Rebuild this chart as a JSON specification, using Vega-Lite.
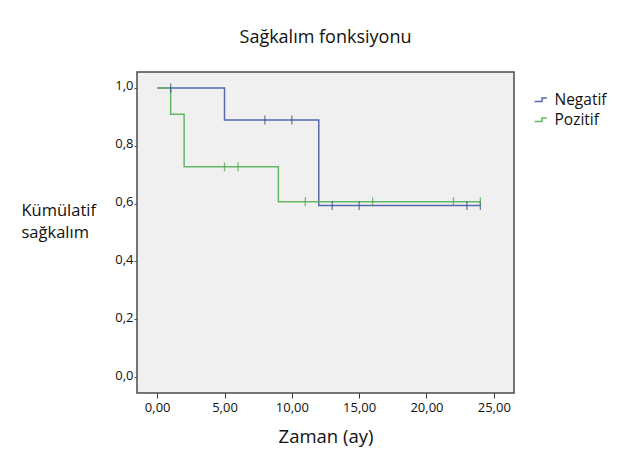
{
  "$schema": "https://vega.github.io/schema/vega-lite/v6.json",
  "width": 377,
  "height": 321,
  "autosize": {"type": "none"},
  "padding": {"left": 137, "top": 72, "right": 112, "bottom": 64},
  "background": "white",
  "title": {"text": "Sağkalım fonksiyonu", "font": "Open Sans", "fontSize": 18, "fontWeight": "normal", "color": "#111", "anchor": "middle", "offset": 25},
  "config": {
    "locale": {"number": {"decimal": ",", "thousands": ".", "grouping": [3], "currency": ["", " ₺"]}},
    "view": {"fill": "#f0f0f0", "stroke": "#4a4a4a", "strokeWidth": 1.5},
    "font": "Open Sans"
  },
  "datasets": {
    "steps": [
      {"grup": "Negatif", "zaman": 0, "s": 1.0},
      {"grup": "Negatif", "zaman": 5, "s": 0.889},
      {"grup": "Negatif", "zaman": 12, "s": 0.593},
      {"grup": "Negatif", "zaman": 24, "s": 0.593},
      {"grup": "Pozitif", "zaman": 0, "s": 1.0},
      {"grup": "Pozitif", "zaman": 1, "s": 0.909},
      {"grup": "Pozitif", "zaman": 2, "s": 0.727},
      {"grup": "Pozitif", "zaman": 9, "s": 0.606},
      {"grup": "Pozitif", "zaman": 24, "s": 0.606}
    ],
    "censor": [
      {"grup": "Negatif", "zaman": 1, "s": 1.0},
      {"grup": "Negatif", "zaman": 8, "s": 0.889},
      {"grup": "Negatif", "zaman": 10, "s": 0.889},
      {"grup": "Negatif", "zaman": 13, "s": 0.593},
      {"grup": "Negatif", "zaman": 15, "s": 0.593},
      {"grup": "Negatif", "zaman": 23, "s": 0.593},
      {"grup": "Negatif", "zaman": 24, "s": 0.593},
      {"grup": "Pozitif", "zaman": 5, "s": 0.727},
      {"grup": "Pozitif", "zaman": 6, "s": 0.727},
      {"grup": "Pozitif", "zaman": 11, "s": 0.606},
      {"grup": "Pozitif", "zaman": 16, "s": 0.606},
      {"grup": "Pozitif", "zaman": 22, "s": 0.606},
      {"grup": "Pozitif", "zaman": 24, "s": 0.606}
    ]
  },
  "encoding": {
    "x": {
      "field": "zaman", "type": "quantitative",
      "scale": {"domain": [-1.5, 26.5], "nice": false, "zero": false},
      "axis": {
        "title": "Zaman (ay)", "titleFont": "Open Sans", "titleFontSize": 18.5, "titleFontWeight": "normal", "titleColor": "#111", "titlePadding": 13,
        "values": [0, 5, 10, 15, 20, 25], "format": ".2f",
        "labelFont": "Open Sans", "labelFontSize": 13, "labelColor": "#111", "labelPadding": 3,
        "domain": false, "grid": false, "ticks": true, "tickSize": 5, "tickColor": "#333"
      }
    },
    "y": {
      "field": "s", "type": "quantitative",
      "scale": {"domain": [-0.055, 1.055], "nice": false, "zero": false},
      "axis": {
        "title": ["Kümülatif", "sağkalım"], "titleFont": "Open Sans", "titleFontSize": 16.5, "titleFontWeight": "normal", "titleColor": "#111",
        "titleAngle": 0, "titleAlign": "left", "titleBaseline": "top", "titleX": -116, "titleY": 130, "titleLineHeight": 22,
        "values": [0, 0.2, 0.4, 0.6, 0.8, 1.0], "format": ".1f",
        "labelFont": "Open Sans", "labelFontSize": 13, "labelColor": "#111", "labelPadding": 1, "labelBaseline": "bottom", "labelOffset": 5,
        "domain": false, "grid": false, "ticks": true, "tickSize": 3, "tickColor": "#555"
      }
    }
  },
  "layer": [
    {
      "data": {"name": "steps"},
      "mark": {"type": "line", "interpolate": "step-after", "strokeWidth": 1.5},
      "encoding": {
        "color": {
          "field": "grup", "type": "nominal",
          "scale": {"domain": ["Negatif", "Pozitif"], "range": ["#5a68ab", "#62b865"]},
          "legend": {
            "title": null, "orient": "none", "legendX": 396, "legendY": 20,
            "symbolType": "M-1,0.3H0.2V-0.3H1", "symbolSize": 150, "symbolStrokeWidth": 1.5, "symbolFillColor": "transparent",
            "labelFont": "Open Sans", "labelFontSize": 15.5, "labelColor": "#111", "rowPadding": 3, "labelOffset": 6
          }
        }
      }
    },
    {
      "data": {"name": "censor"},
      "mark": {"type": "tick", "orient": "vertical", "size": 9, "thickness": 1.3},
      "encoding": {
        "color": {
          "field": "grup", "type": "nominal",
          "scale": {"domain": ["Negatif", "Pozitif"], "range": ["#3c4a85", "#48a04c"]},
          "legend": null
        }
      }
    }
  ],
  "resolve": {"scale": {"color": "independent"}}
}
